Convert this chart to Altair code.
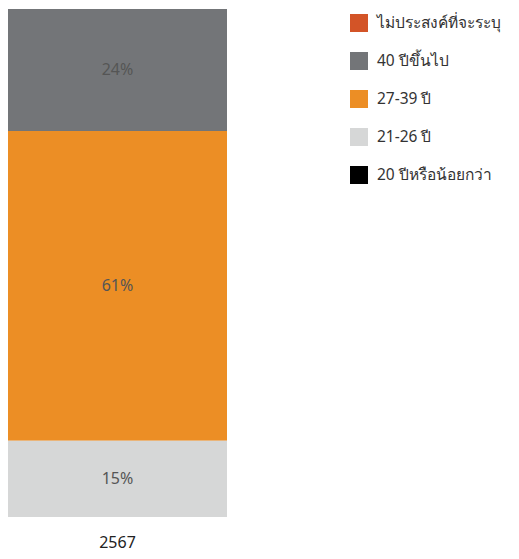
import altair as alt
import pandas as pd

years = ["2567"]
groups = ["ไม่ประสงค์ที่จะระบุ", "40 ปีขึ้นไป", "27-39 ปี", "21-26 ปี", "20 ปีหรือน้อยกว่า"]
values = [0, 24, 61, 15, 0]
colors = ["#D35427", "#737578", "#EC8E25", "#D6D7D7", "#000000"]
stack_order = [5, 4, 3, 2, 1]

df = pd.DataFrame({
    "year": years * len(groups),
    "group": groups,
    "value": values,
    "order": stack_order,
})
df["label"] = df["value"].astype(str) + "%"

FONT = "Noto Sans"

xenc = alt.X("year:N", title=None,
             scale=alt.Scale(paddingInner=0, paddingOuter=0),
             axis=alt.Axis(labelAngle=0, domain=False, ticks=False, labelFontSize=16,
                           labelColor="#222222", labelPadding=17, labelFont=FONT))

bars = alt.Chart(df).mark_bar().encode(
    x=xenc,
    y=alt.Y("value:Q", stack="zero", scale=alt.Scale(domain=[0, 100]), axis=None),
    order=alt.Order("order:Q", sort="ascending"),
    color=alt.Color("group:N", scale=alt.Scale(domain=groups, range=colors),
                    legend=alt.Legend(title=None, orient="none", legendX=342, legendY=5,
                                      symbolType="square", symbolSize=324, symbolStrokeWidth=0,
                                      symbolOpacity=1, labelFontSize=15.5, labelColor="#333333",
                                      labelFont=FONT, labelOffset=9, rowPadding=20,
                                      padding=0, labelLimit=300)),
)

texts = alt.Chart(df).transform_filter("datum.value > 0").transform_stack(
    stack="value", groupby=["year"], as_=["y0", "y1"], sort=[alt.SortField("order", "ascending")]
).transform_calculate(mid="(datum.y0 + datum.y1) / 2").mark_text(
    fontSize=16, color="#555555", font=FONT
).encode(
    x=alt.X("year:N", title=None),
    y=alt.Y("mid:Q", scale=alt.Scale(domain=[0, 100]), axis=None),
    text="label:N",
)

chart = alt.layer(bars, texts).properties(
    width=219, height=508,
    padding={"left": 0, "top": 1, "right": 284, "bottom": 34},
    autosize=alt.AutoSizeParams(type="none"),
).configure_view(strokeWidth=0)

chart.save("out.html", embed_options={"renderer": "svg", "actions": False})
